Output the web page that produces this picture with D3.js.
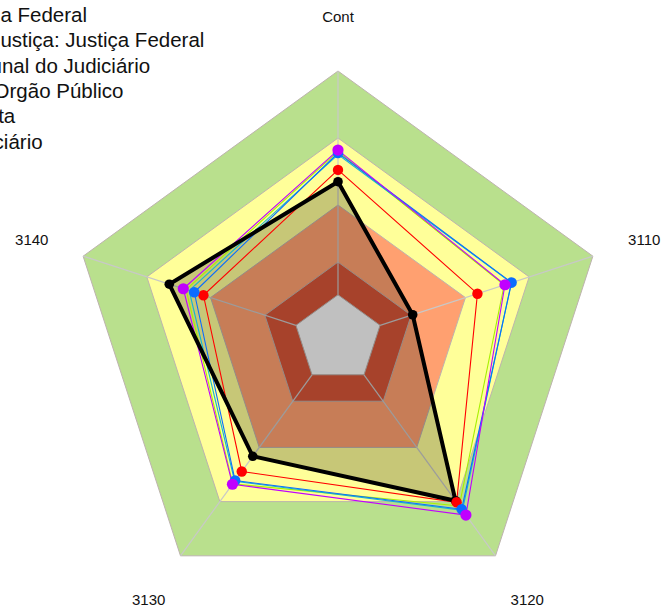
<!DOCTYPE html>
<html><head><meta charset="utf-8">
<script src="https://cdn.jsdelivr.net/npm/d3@7"></script>
<style>html,body{margin:0;padding:0;background:#fff;overflow:hidden}</style>
</head><body><svg id="c" width="666" height="610"></svg>
<script>
const axes = ["Cont", "3110", "3120", "3130", "3140"];
const seriesNames = ["Média Federal", "em Justiça: Justiça Federal", "Tribunal do Judiciário", "Por Orgão Público", "Coleta", "Judiciário"];
const seriesColors = ["#000000", "#FF0000", "#A8F000", "#10B8D0", "#0A6CFF", "#C000FF"];
const black = [58.7, 29.3, 74.6, 54.1, 66.2];
const red = [63.1, 54.7, 75.3, 61.1, 52.8];
const lime = [70.0, 65.2, 77.0, 66.8, 59.6];
const cyan = [68.8, 68.0, 79.0, 65.6, 58.4];
const blue = [69.4, 68.1, 78.5, 65.3, 56.4];
const magenta = [70.5, 65.5, 81.2, 67.0, 60.7];
const bandLevels = [100, 75, 50, 28.7, 16.5];
const bandColors = ["#B9E08D", "#FFFF99", "#FFA070", "#D75538", "#F6F6F6"];
const maxValue = 100;

const allSeries = [black, red, lime, cyan, blue, magenta];
const svg = d3.select("#c");
const cx = 338, cy = 339, R = 268;
const r = d3.scaleLinear().domain([0, maxValue]).range([0, R]);
const ang = d3.scalePoint().domain(axes).range([0, 2 * Math.PI * (axes.length - 1) / axes.length]);
const pt = (a, v) => [cx + r(v) * Math.sin(ang(a)), cy - r(v) * Math.cos(ang(a))];
const line = d3.line();
const poly = vals => line(axes.map((a, i) => pt(a, vals[i])).concat([pt(axes[0], vals[0])]));
const ring = v => poly(axes.map(() => v));

svg.append("rect").attr("width", 666).attr("height", 610).attr("fill", "#fff");
// bands
bandLevels.forEach((lv, i) => {
  svg.append("path").attr("d", ring(lv)).attr("fill", bandColors[i]).attr("stroke", "none");
});
// rings
bandLevels.forEach(lv => {
  svg.append("path").attr("d", ring(lv)).attr("fill", "none").attr("stroke", "#BDB3AE").attr("stroke-width", 1);
});
// spokes (from the innermost band outward)
const innerLevel = bandLevels[bandLevels.length - 1];
axes.forEach(a => {
  const [x0, y0] = pt(a, innerLevel);
  const [x, y] = pt(a, maxValue);
  svg.append("line").attr("x1", x0).attr("y1", y0).attr("x2", x).attr("y2", y)
    .attr("stroke", "#C8C8C8").attr("stroke-width", 1.2);
});
// black series translucent fill
svg.append("path").attr("d", poly(black)).attr("fill", "#000").attr("fill-opacity", 0.22).attr("stroke", "none");
// thin series lines
[1, 2, 3, 4, 5].forEach(si => {
  svg.append("path").attr("d", poly(allSeries[si])).attr("fill", "none")
    .attr("stroke", seriesColors[si]).attr("stroke-width", 1.1).attr("stroke-linejoin", "miter");
});
// thick black line
svg.append("path").attr("d", poly(black)).attr("fill", "none").attr("stroke", "#000")
  .attr("stroke-width", 4).attr("stroke-linejoin", "miter");
// markers
const markerR = [4.8, 5.2, 0, 0, 5.3, 5.6];
[0, 1, 4, 5].forEach(si => {
  axes.forEach((a, i) => {
    const [x, y] = pt(a, allSeries[si][i]);
    svg.append("circle").attr("cx", x).attr("cy", y).attr("r", markerR[si]).attr("fill", seriesColors[si]);
  });
});
// axis labels
axes.forEach(a => {
  const lr = 322;
  const x = cx + lr * Math.sin(ang(a)), y = cy - lr * Math.cos(ang(a));
  svg.append("text").attr("x", x).attr("y", y).attr("dy", "0.35em").attr("text-anchor", "middle")
    .attr("font-family", "Liberation Sans, Arial, sans-serif").attr("font-size", 15).attr("fill", "#111").text(a);
});
// legend (cropped on the left as in the reference)
const lg = svg.append("g").attr("transform", "translate(-44,22)");
seriesNames.forEach((n, i) => {
  lg.append("text").attr("x", 0).attr("y", i * 25.3)
    .attr("font-family", "Liberation Sans, Arial, sans-serif").attr("font-size", 20.5).attr("fill", "#111").text(n);
});
</script></body></html>
